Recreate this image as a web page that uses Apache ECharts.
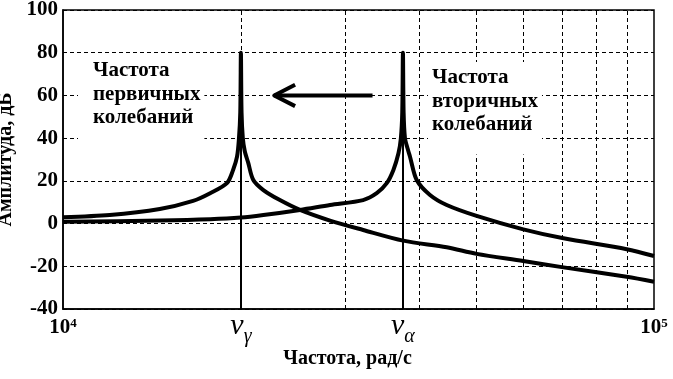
<!DOCTYPE html>
<html><head><meta charset="utf-8">
<script src="https://cdn.jsdelivr.net/npm/echarts@6/dist/echarts.min.js"></script>
<style>html,body{margin:0;padding:0;background:#fff}#c{width:673px;height:379px}</style>
</head><body><div id="c"></div>
<script>
// ---- data ----
const freqA = [1.0e4, 1.2e4, 1.458e4, 1.66e4, 1.774e4, 1.894e4, 1.94e4, 1.97e4, 1.985e4, 1.995e4, 2.0e4, 2.005e4, 2.015e4, 2.03e4, 2.058e4, 2.099e4, 2.183e4, 2.328e4, 2.518e4, 2.83e4, 3.22e4, 3.765e4, 4.459e4, 5.01e4, 6.01e4, 7.03e4, 8.99e4, 1.0e5];
const ampA  = [3.0, 4.0, 6.8, 10.6, 14.2, 18.9, 25.1, 31.3, 40, 52, 80, 52, 40, 34, 28.4, 20.4, 15.7, 11.0, 6.4, 1.4, -3.0, -8.0, -11.1, -14.2, -17.5, -20.5, -24.9, -27.2];
const freqB = [1.0e4, 1.458e4, 1.774e4, 2.0e4, 2.183e4, 2.518e4, 2.83e4, 3.22e4, 3.395e4, 3.53e4, 3.623e4, 3.695e4, 3.73e4, 3.75e4, 3.76e4, 3.77e4, 3.79e4, 3.83e4, 3.865e4, 3.967e4, 4.178e4, 4.459e4, 5.01e4, 6.01e4, 7.03e4, 8.99e4, 1.0e5];
const ampB  = [0.8, 1.4, 2.0, 2.8, 4.0, 6.4, 8.7, 11.0, 14.2, 18.9, 25.1, 32.9, 40, 52, 80, 52, 40, 35, 31.3, 20.4, 13.4, 8.7, 3.6, -2.7, -6.9, -12.0, -15.2];
const gridFreqs = [2e4, 3e4, 4e4, 5e4, 6e4, 7e4, 8e4, 9e4];
const xMin = 1e4, xMax = 1e5;
const yMin = -40, yMax = 100, yStep = 20;
const resonanceFreqs = [2.0e4, 3.76e4];
const resonanceLabels = ['{n|ν}{g|γ}', '{n|ν}{g|α}'];
const peakLevel = 80;
const arrowFreqs = [3.34e4, 2.277e4];
const arrowLevels = [60, 60];
const arrowHeadFreqs = [2.47e4, 2.277e4, 2.47e4];
const arrowHeadLevels = [65, 60, 55];
const textPrimary = ['Частота', 'первичных', 'колебаний'];
const textSecondary = ['Частота', 'вторичных', 'колебаний'];
const yTitle = 'Амплитуда, дБ';
const xTitle = 'Частота, рад/с';

// ---- chart ----
const FONT = '"Liberation Serif","Times New Roman",serif';
const zip = (xs, ys) => xs.map((x, i) => [x, ys[i]]);
const chart = echarts.init(document.getElementById('c'), null, {renderer: 'canvas'});
const blackLine = (data, w, smooth) => ({
  type: 'line', data: data, showSymbol: false, symbol: 'none', silent: true, z: 5,
  smooth: smooth ? 0.3 : false,
  lineStyle: {color: '#000', width: w, join: 'round'}, itemStyle: {color: '#000'}
});
const option = {
  animation: false,
  backgroundColor: '#fff',
  grid: {left: 63, right: 19, top: 10, bottom: 70, containLabel: false, outerBoundsMode: 'none',
    show: true, borderColor: '#000', borderWidth: 1.5},
  xAxis: {
    type: 'log', logBase: 10, min: xMin, max: xMax,
    name: xTitle, nameLocation: 'middle', nameGap: 40,
    nameTextStyle: {fontFamily: FONT, fontWeight: 'bold', fontSize: 20, color: '#000', padding: [0, 22, 0, 0]},
    axisLine: {show: true, onZero: false, lineStyle: {color: '#000', width: 1.5}},
    axisTick: {show: false}, splitLine: {show: false}, minorTick: {show: false}, minorSplitLine: {show: false},
    axisLabel: {
      margin: 8, color: '#000',
      formatter: v => '{b|10}{s|' + Math.round(Math.log10(v)) + '}',
      rich: {
        b: {fontFamily: FONT, fontWeight: 'bold', fontSize: 21, color: '#000'},
        s: {fontFamily: FONT, fontWeight: 'bold', fontSize: 13, color: '#000', verticalAlign: 'top'}
      }
    }
  },
  yAxis: {
    type: 'value', min: yMin, max: yMax, interval: yStep,
    name: yTitle, nameLocation: 'middle', nameGap: 44, nameRotate: 90,
    nameTextStyle: {fontFamily: FONT, fontWeight: 'bold', fontSize: 20, color: '#000'},
    axisLine: {show: true, onZero: false, lineStyle: {color: '#000', width: 1.5}},
    axisTick: {show: false},
    splitLine: {show: true, lineStyle: {color: '#000', width: 1, type: [4, 3]}},
    axisLabel: {margin: 5, color: '#000', fontFamily: FONT, fontWeight: 'bold', fontSize: 21}
  },
  series: [
    {
      type: 'line', data: [], silent: true, z: 1,
      markLine: {
        silent: true, symbol: 'none', label: {show: false},
        lineStyle: {color: '#000', width: 1, type: [4, 3]},
        data: gridFreqs.map(f => ({xAxis: f}))
      }
    },
    blackLine(zip(freqA, ampA), 4, true),
    blackLine(zip(freqB, ampB), 4, true),
    {
      type: 'line', data: [], silent: true, z: 6,
      markLine: {
        silent: true, symbol: 'none',
        lineStyle: {color: '#000', width: 2, type: 'solid'},
        label: {
          show: true, position: 'start', distance: 2,
          formatter: p => resonanceLabels[p.dataIndex],
          rich: {
            n: {fontFamily: FONT, fontStyle: 'italic', fontSize: 30, color: '#000', lineHeight: 30, verticalAlign: 'top'},
            g: {fontFamily: FONT, fontStyle: 'italic', fontSize: 20, color: '#000', lineHeight: 36, verticalAlign: 'bottom'}
          }
        },
        data: resonanceFreqs.map(f => [{coord: [f, yMin]}, {coord: [f, peakLevel]}])
      }
    },
    blackLine(zip(arrowFreqs, arrowLevels), 4, false),
    blackLine(zip(arrowHeadFreqs, arrowHeadLevels), 4, false)
  ],
  graphic: [
    {
      type: 'text', left: 78, top: 55, z: 100, silent: true,
      style: {text: textPrimary.join('\n'), fontFamily: FONT, fontWeight: 'bold', fontSize: 21, fill: '#000', lineHeight: 23.5,
        backgroundColor: '#fff', padding: [4, 4, 14, 15]}
    },
    {
      type: 'text', left: 428, top: 62, z: 100, silent: true,
      style: {text: textSecondary.join('\n'), fontFamily: FONT, fontWeight: 'bold', fontSize: 21, fill: '#000', lineHeight: 23.5,
        backgroundColor: '#fff', padding: [4, 4, 18, 4]}
    }
  ]
};
chart.setOption(option);
</script>
</body></html>
